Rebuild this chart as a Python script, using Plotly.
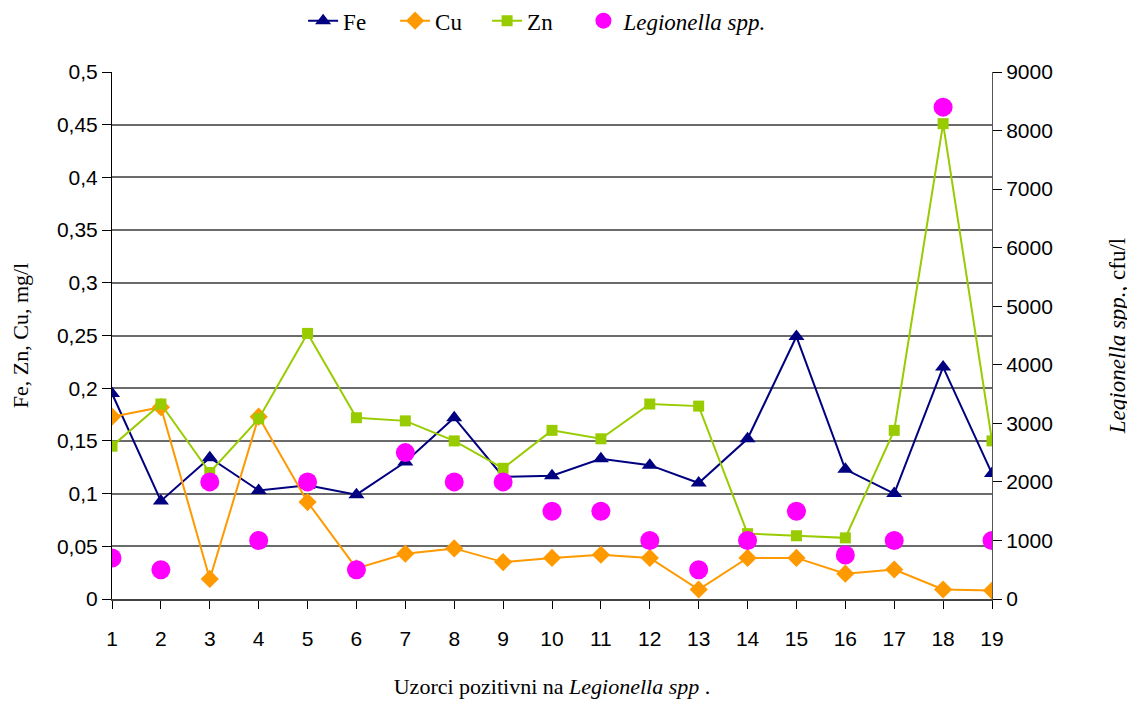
import plotly.graph_objects as go

samples = list(range(1, 20))
fe = [0.195, 0.093, 0.134, 0.103, 0.108, 0.099, 0.130, 0.172, 0.116, 0.117,
      0.133, 0.127, 0.110, 0.152, 0.249, 0.123, 0.100, 0.220, 0.119]
cu = [0.173, 0.182, 0.019, 0.173, 0.092, 0.029, 0.043, 0.048, 0.035, 0.039,
      0.042, 0.039, 0.009, 0.039, 0.039, 0.024, 0.028, 0.009, 0.008]
zn = [0.145, 0.185, 0.120, 0.171, 0.252, 0.172, 0.169, 0.150, 0.124, 0.160,
      0.152, 0.185, 0.183, 0.062, 0.060, 0.058, 0.160, 0.451, 0.150]
legionella = [700, 500, 2000, 1000, 2000, 500, 2500, 2000, 2000, 1500,
              1500, 1000, 500, 1000, 1500, 750, 1000, 8400, 1000]

left_ticks = [0, 0.05, 0.1, 0.15, 0.2, 0.25, 0.3, 0.35, 0.4, 0.45, 0.5]
left_labels = ["0", "0,05", "0,1", "0,15", "0,2", "0,25", "0,3", "0,35", "0,4", "0,45", "0,5"]
right_ticks = [0, 1000, 2000, 3000, 4000, 5000, 6000, 7000, 8000, 9000]

serif = "Liberation Serif"
sans = "Liberation Sans"

fig = go.Figure()
fig.add_trace(go.Scatter(x=samples, y=fe, name="Fe", mode="lines+markers",
                         line=dict(color="#000080", width=2),
                         marker=dict(symbol="triangle-up", size=14, color="#000080")))
fig.add_trace(go.Scatter(x=samples, y=cu, name="Cu", mode="lines+markers",
                         line=dict(color="#FF9900", width=2),
                         marker=dict(symbol="diamond", size=14, color="#FF9900")))
fig.add_trace(go.Scatter(x=samples, y=zn, name="Zn", mode="lines+markers",
                         line=dict(color="#99CC00", width=2),
                         marker=dict(symbol="square", size=11, color="#99CC00")))
fig.add_trace(go.Scatter(x=samples, y=legionella, name="<i>Legionella spp.</i>", mode="markers",
                         yaxis="y2", legend="legend2",
                         marker=dict(symbol="circle", size=19, color="#FF00FF")))

fig.update_layout(
    width=1135, height=705,
    margin=dict(l=104, r=151, t=64, b=114, autoexpand=False),
    paper_bgcolor="white", plot_bgcolor="white",
    font=dict(family=sans, size=21, color="black"),
    showlegend=True,
    legend=dict(orientation="h", xref="container", x=0.26, xanchor="left",
                yref="container", y=0.982, yanchor="middle",
                font=dict(family=serif, size=23),
                entrywidth=47, entrywidthmode="pixels",
                itemwidth=30, traceorder="normal"),
    legend2=dict(orientation="h", xref="container", x=0.507, xanchor="left",
                 yref="container", y=0.982, yanchor="middle",
                 font=dict(family=serif, size=23), itemwidth=30),
    xaxis=dict(range=[1, 19], tickmode="array", tickvals=samples,
               ticktext=[str(s) for s in samples],
               showgrid=False, zeroline=False,
               showline=True, linecolor="#444444", linewidth=1.5,
               ticks="outside", ticklen=8, tickcolor="black",
               ticklabelstandoff=12,
               tickfont=dict(family=sans, size=21),
               title=dict(text="Uzorci pozitivni na <i>Legionella spp</i> .",
                          font=dict(family=serif, size=22), standoff=30)),
    yaxis=dict(range=[0, 0.5], tickmode="array", tickvals=left_ticks, ticktext=left_labels,
               showgrid=True, gridcolor="#6b6b6b", gridwidth=1.5, zeroline=False,
               showline=True, linecolor="black", linewidth=1,
               ticks="outside", ticklen=9, tickcolor="black",
               tickfont=dict(family=sans, size=21),
               title=dict(text="Fe, Zn, Cu, mg/l", font=dict(family=serif, size=22), standoff=26)),
    yaxis2=dict(range=[0, 9000], overlaying="y", side="right", tickmode="array",
                tickvals=right_ticks, showgrid=False, zeroline=False,
                showline=True, linecolor="#555555", linewidth=1,
                ticks="outside", ticklen=9, tickcolor="black",
                tickfont=dict(family=sans, size=21),
                title=dict(text="<i>Legionella spp.</i>, cfu/l",
                           font=dict(family=serif, size=23), standoff=56)),
)

fig.write_html("out.html")
